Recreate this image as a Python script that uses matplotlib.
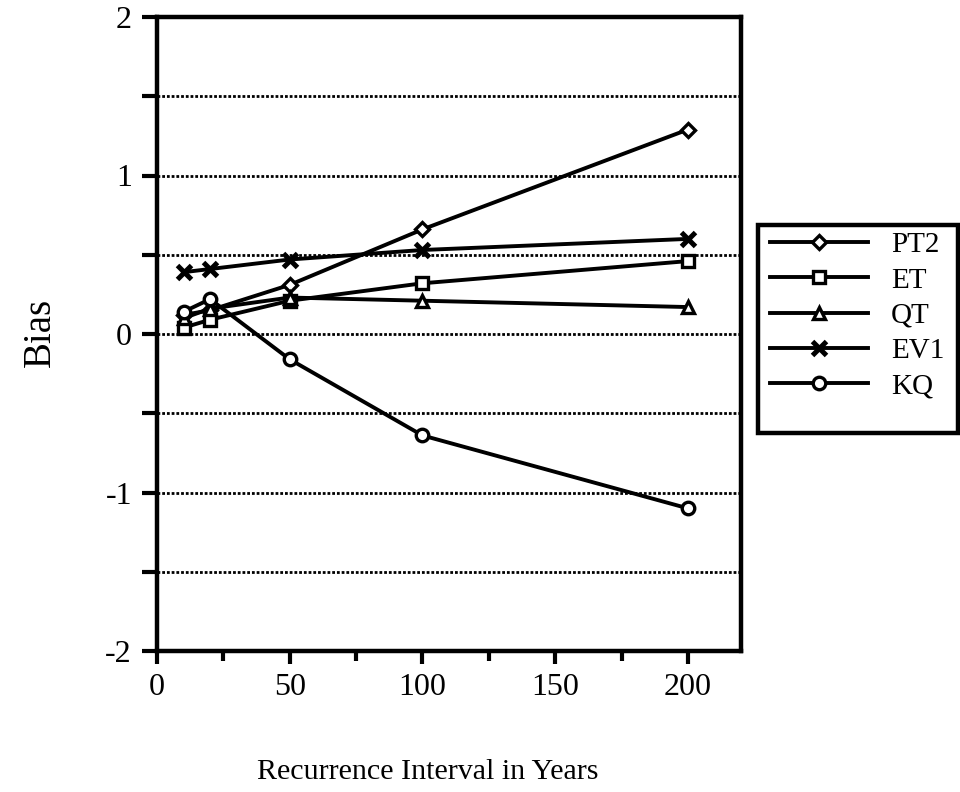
import matplotlib
matplotlib.use("Agg")
import matplotlib.pyplot as plt
from matplotlib.patches import Rectangle
from matplotlib.ticker import MultipleLocator

# Recurrence intervals (years)
intervals = [10, 20, 50, 100, 200]

# Bias of each estimator
pt2 = [0.12, 0.15, 0.31, 0.66, 1.29]
et = [0.04, 0.09, 0.21, 0.32, 0.46]
qt = [0.10, 0.16, 0.23, 0.21, 0.17]
ev1 = [0.39, 0.41, 0.47, 0.53, 0.60]
kq = [0.14, 0.22, -0.16, -0.64, -1.10]

series_names = ["PT2", "ET", "QT", "EV1", "KQ"]
series_values = [pt2, et, qt, ev1, kq]

x_ticks = [0, 50, 100, 150, 200]
y_ticks = [-2, -1, 0, 1, 2]

plt.rcParams["font.family"] = ["Liberation Serif", "DejaVu Serif"]
plt.rcParams["axes.unicode_minus"] = False

W, H = 960, 792
fig = plt.figure(figsize=(9.6, 7.92), dpi=100)
ax = fig.add_axes([157 / W, 1 - 651 / H, (741 - 157) / W, (651 - 17) / H])

# dotted horizontal grid at half-unit steps
for g in [-1.5, -1.0, -0.5, 0.0, 0.5, 1.0, 1.5]:
    ax.axhline(g, color="black", lw=2.0, ls=(0, (1, 0.7)), zorder=1)

styles = {
    "PT2": dict(marker="D", ms=7.5),
    "ET": dict(marker="s", ms=8.5),
    "QT": dict(marker="^", ms=8),
    "EV1": dict(marker="x", ms=10.5, mew=3.6),
    "KQ": dict(marker="o", ms=9),
}

for name, vals in zip(series_names, series_values):
    st = dict(mew=2.4, mfc="white", mec="black")
    st.update(styles[name])
    ax.plot(intervals, vals, color="black", lw=2.8, label=name, zorder=3, **st)

ax.set_xlim(0, 220)
ax.set_ylim(-2, 2)
ax.set_xticks(x_ticks)
ax.set_yticks(y_ticks)
ax.xaxis.set_minor_locator(MultipleLocator(25))
ax.yaxis.set_minor_locator(MultipleLocator(0.5))
ax.tick_params(axis="both", which="major", direction="out", length=9, width=3,
               labelsize=23, pad=7)
ax.tick_params(axis="both", which="minor", direction="out", length=7, width=3)
ax.tick_params(axis="y", which="both", length=11)
for sp in ax.spines.values():
    sp.set_linewidth(3.2)

fig.text(40 / W, 1 - 332 / H, "Bias", rotation=90, ha="center", va="center",
         fontsize=28)
fig.text(428 / W, 1 - 772 / H, "Recurrence Interval in Years", ha="center",
         va="center", fontsize=21.6)

# legend entries, with the box drawn as its own frame
leg = fig.legend(loc="upper left", bbox_to_anchor=(770 / W, 1 - 232 / H),
                 fontsize=21, handlelength=3.35, handletextpad=0.8,
                 labelspacing=0.3, borderpad=0, frameon=False, borderaxespad=0)
fig.patches.append(Rectangle((758 / W, 1 - 433 / H), 200 / W, 208 / H,
                             transform=fig.transFigure, fill=False,
                             edgecolor="black", lw=3.2))

fig.savefig("out.png", dpi=100)
